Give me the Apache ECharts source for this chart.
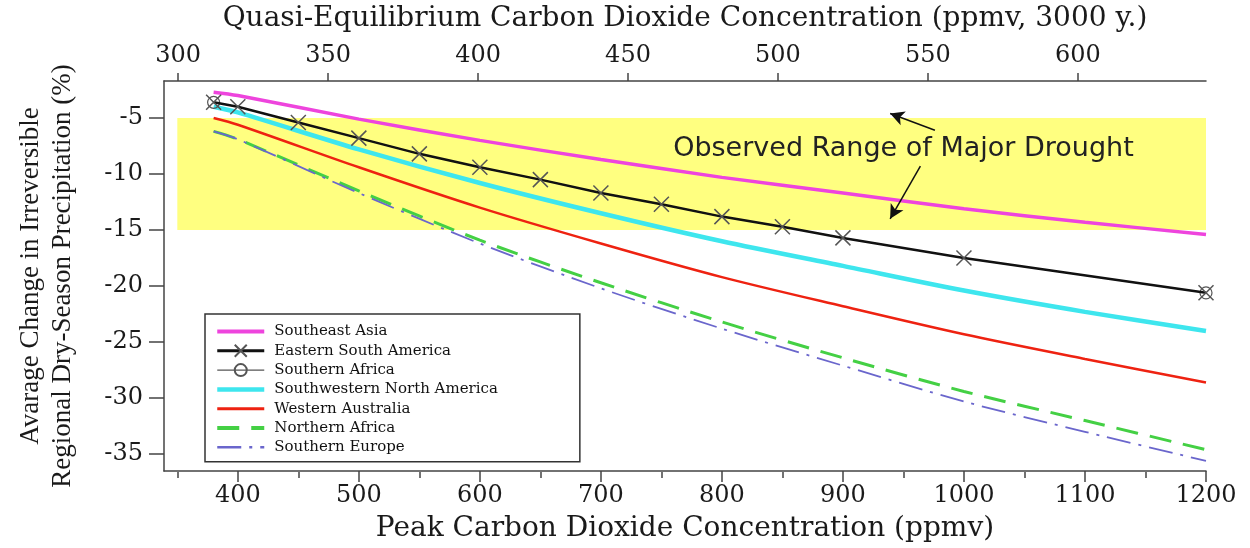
<!DOCTYPE html>
<html>
<head>
<meta charset="utf-8">
<script src="https://cdn.jsdelivr.net/npm/echarts@6/dist/echarts.min.js"></script>
<style>
  html, body { margin: 0; padding: 0; background: #fff; }
  #chart { width: 1250px; height: 548px; }
</style>
</head>
<body>
<div id="chart"></div>
<script>
'use strict';

// peak CO2 (ppmv) where the smooth curves were read
var peakCO2 = [380, 400, 500, 600, 700, 800, 900, 1000, 1100, 1200];
// peak CO2 of the marked points on the black curve
var markedCO2 = [380, 400, 450, 500, 550, 600, 650, 700, 750, 800, 850, 900, 1000, 1200];

var southeastAsia = [-2.7, -3.0, -5.1, -7.0, -8.7, -10.3, -11.7, -13.1, -14.3, -15.4];
var easternSouthAmerica = [-3.6, -4.0, -5.4, -6.8, -8.2, -9.4, -10.5, -11.7, -12.7, -13.8, -14.7, -15.7, -17.5, -20.6];
var southernAfrica = [-3.6, -4.0, -5.4, -6.8, -8.2, -9.4, -10.5, -11.7, -12.7, -13.8, -14.7, -15.7, -17.5, -20.6];
var southwesternNorthAmerica = [-4.0, -4.5, -7.8, -10.8, -13.5, -16.0, -18.2, -20.4, -22.3, -24.0];
var westernAustralia = [-5.0, -5.6, -9.4, -13.0, -16.2, -19.2, -21.8, -24.3, -26.5, -28.6];
var northernAfrica = [-6.2, -6.9, -11.5, -15.9, -19.7, -23.2, -26.4, -29.4, -32.0, -34.6];
var southernEurope = [-6.2, -6.9, -11.7, -16.2, -20.2, -23.8, -27.1, -30.3, -33.0, -35.6];

var bottomTicks = [400, 500, 600, 700, 800, 900, 1000, 1100, 1200];
var bottomMinorTicks = [350, 450, 550, 650, 750, 850, 950, 1050, 1150];
var topTicks = [300, 350, 400, 450, 500, 550, 600];
var yTicks = [-35, -30, -25, -20, -15, -10, -5];

// observed range of major drought
var droughtX = [350, 1200];
var droughtY = [-15, -5];
var droughtLabel = 'Observed Range of Major Drought';
var labelAt = [950, -7.8];
var arrowUp = [[976, -6.1], [939, -4.6]];
var arrowDown = [[964, -9.3], [939, -14.0]];

function pairs(xs, ys) {
    return xs.map(function(x, i) { return [x, ys[i]]; });
}

var wideSerif = '"DejaVu Serif", serif';
var serif = '"Liberation Serif", "Times New Roman", serif';
var crossPath = 'path://M0,0L10,10M10,0L0,10';
var noDot = { color: 'rgba(0,0,0,0)' };
var axisGrey = '#444';

var chart = echarts.init(document.getElementById('chart'));

var option = {
    animation: false,
    textStyle: { fontFamily: wideSerif, color: '#1a1a1a' },
    grid: [
        { left: 164, right: 44, top: 75, bottom: 76 },
        { left: 164, right: 44, top: 75, bottom: 76 }
    ],
    legend: {
        orient: 'vertical',
        left: 205,
        top: 314,
        data: [
            { name: 'Southeast Asia', lineStyle: { width: 4 } },
            { name: 'Eastern South America', lineStyle: { width: 3 } },
            { name: 'Southern Africa', lineStyle: { width: 1.2 } },
            { name: 'Southwestern North America', lineStyle: { width: 4.5 } },
            { name: 'Western Australia', lineStyle: { width: 3 } },
            { name: 'Northern Africa', lineStyle: { width: 4 } },
            { name: 'Southern Europe', lineStyle: { width: 2.5 } }
        ],
        backgroundColor: '#fff',
        borderColor: '#333',
        borderWidth: 1.5,
        borderRadius: 0,
        padding: [10, 82, 7, 10],
        itemWidth: 47,
        itemHeight: 15,
        itemGap: 4.3,
        textStyle: { fontFamily: wideSerif, fontSize: 15, color: '#111', padding: [0, 0, 0, 5] }
    },
    xAxis: [{
        type: 'value',
        gridIndex: 0,
        position: 'bottom',
        min: 339,
        max: 1200,
        name: 'Peak Carbon Dioxide Concentration (ppmv)',
        nameLocation: 'middle',
        nameGap: 44,
        nameTextStyle: { fontFamily: wideSerif, fontSize: 28, color: '#1a1a1a' },
        axisLine: { lineStyle: { color: axisGrey, width: 1.5 } },
        axisTick: { customValues: bottomTicks, length: 11, lineStyle: { color: axisGrey, width: 1.5 } },
        axisLabel: {
            customValues: bottomTicks,
            fontFamily: wideSerif,
            fontSize: 24,
            color: '#1a1a1a',
            margin: 13,
            formatter: function(v) { return String(v); }
        },
        splitLine: { show: false }
    }, {
        type: 'value',
        gridIndex: 0,
        position: 'top',
        min: 295.3,
        max: 642.7,
        name: 'Quasi-Equilibrium Carbon Dioxide Concentration (ppmv, 3000 y.)',
        nameLocation: 'middle',
        nameGap: 48,
        nameTextStyle: { fontFamily: wideSerif, fontSize: 28, color: '#1a1a1a' },
        axisLine: { lineStyle: { color: axisGrey, width: 1.5 } },
        axisTick: { customValues: topTicks, length: 8, lineStyle: { color: axisGrey, width: 1.5 } },
        axisLabel: { customValues: topTicks, fontFamily: wideSerif, fontSize: 24, color: '#1a1a1a', margin: 13 },
        splitLine: { show: false }
    }, {
        type: 'value',
        gridIndex: 1,
        position: 'bottom',
        min: 339,
        max: 1200,
        axisLine: { show: false },
        axisTick: { customValues: bottomMinorTicks, length: 6, lineStyle: { color: axisGrey, width: 1.5 } },
        axisLabel: { show: false },
        splitLine: { show: false }
    }],
    yAxis: [{
        type: 'value',
        gridIndex: 0,
        min: -36.5,
        max: -1.7,
        name: 'Avarage Change in Irreversible\nRegional Dry-Season Precipitation (%)',
        nameLocation: 'middle',
        nameRotate: 90,
        nameGap: 85,
        nameTextStyle: { fontFamily: serif, fontSize: 27, lineHeight: 32, color: '#1a1a1a' },
        axisLine: { show: true, lineStyle: { color: axisGrey, width: 1.5 } },
        axisTick: { show: true, customValues: yTicks, length: 15, lineStyle: { color: axisGrey, width: 1.5 } },
        axisLabel: { customValues: yTicks, fontFamily: wideSerif, fontSize: 24, color: '#1a1a1a', margin: 21 },
        splitLine: { show: false }
    }, {
        type: 'value',
        gridIndex: 1,
        show: false,
        min: -36.5,
        max: -1.7
    }],
    series: [{
        name: 'drought band',
        type: 'line',
        data: [],
        z: 1,
        markArea: {
            silent: true,
            itemStyle: { color: '#ffff80' },
            data: [[{ coord: [droughtX[0], droughtY[1]] }, { coord: [droughtX[1], droughtY[0]] }]]
        },
        markLine: {
            silent: true,
            symbol: ['none', 'arrow'],
            symbolSize: [11, 14],
            lineStyle: { color: '#111', width: 1.5, type: 'solid' },
            label: { show: false },
            data: [
                [{ coord: arrowUp[0] }, { coord: arrowUp[1] }],
                [{ coord: arrowDown[0] }, { coord: arrowDown[1] }]
            ]
        },
        markPoint: {
            silent: true,
            symbolSize: 0,
            label: {
                show: true,
                formatter: droughtLabel,
                fontFamily: '"DejaVu Sans", Verdana, sans-serif',
                fontSize: 27,
                color: '#222'
            },
            data: [{ coord: labelAt }]
        }
    }, {
        name: 'Southeast Asia',
        type: 'line',
        smooth: 0.3,
        symbol: 'none',
        z: 3,
        lineStyle: { color: '#ee44dd', width: 3.5 },
        itemStyle: noDot,
        data: pairs(peakCO2, southeastAsia)
    }, {
        name: 'Southern Africa',
        type: 'line',
        z: 3,
        symbol: 'circle',
        symbolSize: 12,
        lineStyle: { color: '#555', width: 1 },
        itemStyle: { color: 'rgba(255,255,255,0)', borderColor: '#555', borderWidth: 1.2 },
        data: pairs(markedCO2, southernAfrica).map(function(p, i, all) {
            var ends = i === 0 || i === all.length - 1;
            return { value: p, symbolSize: ends ? 12 : 0 };
        })
    }, {
        name: 'Eastern South America',
        type: 'line',
        z: 4,
        symbol: crossPath,
        symbolSize: 15,
        lineStyle: { color: '#111', width: 2.5 },
        itemStyle: { color: 'rgba(0,0,0,0)', borderColor: '#555', borderWidth: 1.5 },
        data: pairs(markedCO2, easternSouthAmerica)
    }, {
        name: 'Southwestern North America',
        type: 'line',
        smooth: 0.3,
        symbol: 'none',
        z: 3,
        lineStyle: { color: '#3ee6ee', width: 4.5 },
        itemStyle: noDot,
        data: pairs(peakCO2, southwesternNorthAmerica)
    }, {
        name: 'Western Australia',
        type: 'line',
        smooth: 0.3,
        symbol: 'none',
        z: 3,
        lineStyle: { color: '#ee2211', width: 2.5 },
        itemStyle: noDot,
        data: pairs(peakCO2, westernAustralia)
    }, {
        name: 'Northern Africa',
        type: 'line',
        smooth: 0.3,
        symbol: 'none',
        z: 3,
        lineStyle: { color: '#44d044', width: 3, type: [22, 12] },
        itemStyle: noDot,
        data: pairs(peakCO2, northernAfrica)
    }, {
        name: 'Southern Europe',
        type: 'line',
        smooth: 0.3,
        symbol: 'none',
        z: 3,
        lineStyle: { color: '#6a66cc', width: 1.8, type: [24, 8, 3, 8] },
        itemStyle: noDot,
        data: pairs(peakCO2, southernEurope)
    }]
};

chart.setOption(option);
</script>
</body>
</html>
